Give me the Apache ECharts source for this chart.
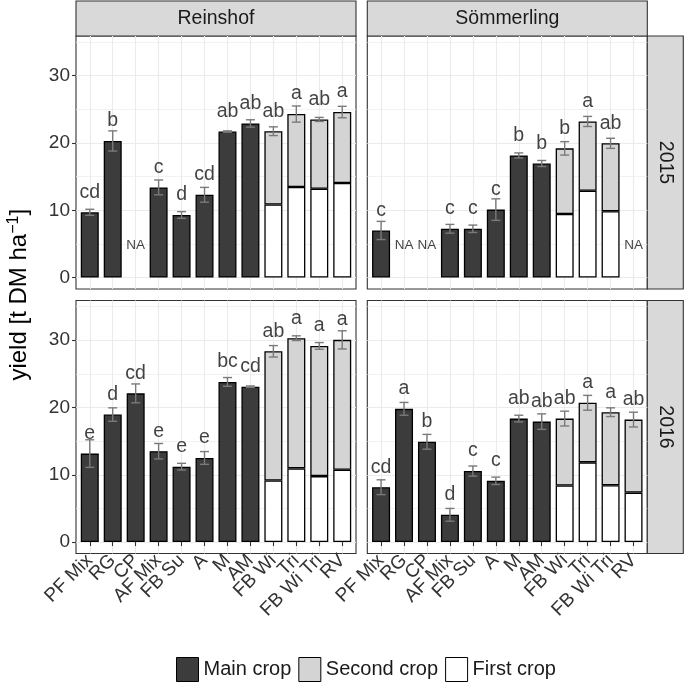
<!DOCTYPE html>
<html><head><meta charset="utf-8">
<script src="https://cdn.jsdelivr.net/npm/echarts@6/dist/echarts.min.js"></script>
<style>html,body{margin:0;padding:0;background:#fff}#c{width:685px;height:684px}</style>
</head><body><div id="c"></div><script>
// ---------- data ----------
const categories = ['PF Mix','RG','CP','AF Mix','FB Su','A','M','AM','FB Wi','Tri','FB Wi Tri','RV'];
const sites = ['Reinshof','Sömmerling'];
const years = ['2015','2016'];
const yMajorTicks = [0, 10, 20, 30];
const yMinorTicks = [5, 15, 25, 35];
const legendNames = ['Main crop','Second crop','First crop'];

// Reinshof 2015
const rein15Main   = [9.7, 20.3, null, 13.4, 9.3, 12.3, 21.7, 22.9, null, null, null, null];
const rein15First  = [null, null, null, null, null, null, null, null, 10.85, 13.45, 13.2, 14.05];
const rein15Second = [null, null, null, null, null, null, null, null, 10.9, 10.85, 10.3, 10.55];
const rein15Se     = [0.45, 1.5, null, 1.1, 0.5, 1.1, 0.1, 0.55, 0.65, 1.2, 0.3, 0.85];
const rein15Letters= ['cd','b','NA','c','d','cd','ab','ab','ab','a','ab','a'];

// Sömmerling 2015
const som15Main    = [7.0, null, null, 7.25, 7.25, 10.1, 18.15, 16.95, null, null, null, null];
const som15First   = [null, null, null, null, null, null, null, null, 9.45, 12.9, 9.85, null];
const som15Second  = [null, null, null, null, null, null, null, null, 9.75, 10.3, 10.1, null];
const som15Se      = [1.35, null, null, 0.65, 0.55, 1.6, 0.37, 0.45, 1.0, 0.75, 0.75, null];
const som15Letters = ['c','NA','NA','c','c','c','b','b','b','a','ab','NA'];

// Reinshof 2016
const rein16Main   = [13.15, 18.95, 22.1, 13.5, 11.2, 12.5, 23.8, 23.1, null, null, null, null];
const rein16First  = [null, null, null, null, null, null, null, null, 9.15, 10.95, 9.8, 10.75];
const rein16Second = [null, null, null, null, null, null, null, null, 19.2, 19.35, 19.35, 19.3];
const rein16Se     = [2.05, 1.0, 1.4, 1.15, 0.5, 0.95, 0.65, 0.1, 0.85, 0.35, 0.5, 1.35];
const rein16Letters= ['e','d','cd','e','e','e','bc','cd','ab','a','a','a'];

// Sömmerling 2016
const som16Main    = [8.15, 19.8, 14.9, 4.05, 10.55, 9.1, 18.35, 17.9, null, null, null, null];
const som16First   = [null, null, null, null, null, null, null, null, 8.4, 11.85, 8.45, 7.35];
const som16Second  = [null, null, null, null, null, null, null, null, 9.95, 8.85, 10.85, 10.85];
const som16Se      = [1.1, 0.95, 1.1, 0.95, 0.75, 0.55, 0.5, 1.15, 1.1, 1.1, 0.65, 1.1];
const som16Letters = ['cd','a','b','d','c','c','ab','ab','ab','a','a','ab'];

// ---------- layout / style ----------
const FONT = "'Liberation Sans', Arial, Helvetica, sans-serif";
const colX = [76, 367.3];
const panelW = 280;
const rowY = [36, 300.5];
const panelH = 253;
const stripTop = 1, stripH = 35;
const rightStripX = 647.3, rightStripW = 36;
const yMin = -1.7, yMax = 35.9;
const unit = panelW / 12.2;
const COL_MAIN = '#3c3c3c', COL_SECOND = '#d4d4d4', COL_FIRST = '#ffffff';

const panels = [
  {row:0, col:0, main:rein15Main, first:rein15First, second:rein15Second, se:rein15Se, letters:rein15Letters},
  {row:0, col:1, main:som15Main,  first:som15First,  second:som15Second,  se:som15Se,  letters:som15Letters},
  {row:1, col:0, main:rein16Main, first:rein16First, second:rein16Second, se:rein16Se, letters:rein16Letters},
  {row:1, col:1, main:som16Main,  first:som16First,  second:som16Second,  se:som16Se,  letters:som16Letters}
];

const grid = [], xAxis = [], yAxis = [], series = [], graphic = [];

panels.forEach((p, k) => {
  const left = colX[p.col], top = rowY[p.row];
  const bottomRow = p.row === 1, leftCol = p.col === 0;
  const gF = 2*k, gB = 2*k + 1;
  grid.push({left: left, top: top, width: panelW, height: panelH, show: true,
    backgroundColor: '#fff', borderColor: '#333', borderWidth: 1.1});
  grid.push({left: left + 0.6*unit, top: top, width: 11*unit, height: panelH, show: false});

  xAxis.push({gridIndex: gF, type: 'value', min: 0, max: 1, show: false});
  xAxis.push({gridIndex: gB, type: 'category', data: categories, boundaryGap: false,
    axisLine: {show: false},
    axisTick: {show: bottomRow, length: 4, interval: 0, lineStyle: {color: '#333', width: 1.1}},
    axisLabel: {show: bottomRow, interval: 0, rotate: 45, margin: 4, fontSize: 19, color: '#333', fontFamily: FONT},
    splitLine: {show: true, interval: 0, lineStyle: {color: '#ebebeb', width: 1.1}}
  });

  yAxis.push({gridIndex: gF, type: 'value', min: yMin, max: yMax, position: 'left',
    axisLine: {show: false},
    axisTick: {show: leftCol, length: 4, customValues: yMajorTicks, lineStyle: {color: '#333', width: 1.1}},
    axisLabel: {show: leftCol, customValues: yMajorTicks, margin: 6, fontSize: 19, color: '#333', fontFamily: FONT},
    splitLine: {show: true, lineStyle: {color: '#ebebeb', width: 1.1}}
  });
  yAxis.push({gridIndex: gF, type: 'value', min: yMin, max: yMax, position: 'right',
    axisLine: {show: false},
    axisTick: {show: false, customValues: yMinorTicks},
    axisLabel: {show: false},
    splitLine: {show: true, lineStyle: {color: '#ededed', width: 0.7}}
  });
  const yB = yAxis.length;
  yAxis.push({gridIndex: gB, type: 'value', min: yMin, max: yMax, show: false});

  const total = categories.map((c, i) => p.main[i] != null ? p.main[i]
      : (p.first[i] != null ? p.first[i] + p.second[i] : null));

  const barBase = {type: 'bar', xAxisIndex: gB, yAxisIndex: yB, stack: 'yield' + k,
    barWidth: 18, clip: false, silent: true};
  series.push(Object.assign({}, barBase, {name: 'First crop', data: p.first.map(v => v == null ? '-' : v),
    itemStyle: {color: COL_FIRST, borderColor: '#000', borderWidth: 1.3}}));
  series.push(Object.assign({}, barBase, {name: 'Second crop', data: p.second.map(v => v == null ? '-' : v),
    itemStyle: {color: COL_SECOND, borderColor: '#000', borderWidth: 1.3}}));
  series.push(Object.assign({}, barBase, {name: 'Main crop', data: p.main.map(v => v == null ? '-' : v),
    itemStyle: {color: COL_MAIN, borderColor: '#000', borderWidth: 1.3}}));

  const errData = [];
  total.forEach((t, i) => { if (t != null && p.se[i] != null) errData.push([i, t - p.se[i], t + p.se[i]]); });
  series.push({type: 'custom', xAxisIndex: gB, yAxisIndex: yB, silent: true, z: 4,
    encode: {x: 0, y: [1, 2]}, data: errData,
    renderItem: function (params, api) {
      const x = api.value(0);
      const lo = api.coord([x, api.value(1)]);
      const hi = api.coord([x, api.value(2)]);
      const w = 4.5;
      const st = {stroke: '#7a7a7a', lineWidth: 1.4};
      return {type: 'group', children: [
        {type: 'line', shape: {x1: lo[0], y1: lo[1], x2: hi[0], y2: hi[1]}, style: st},
        {type: 'line', shape: {x1: lo[0]-w, y1: lo[1], x2: lo[0]+w, y2: lo[1]}, style: st},
        {type: 'line', shape: {x1: hi[0]-w, y1: hi[1], x2: hi[0]+w, y2: hi[1]}, style: st}
      ]};
    }
  });

  const letterData = [], naData = [];
  total.forEach((t, i) => {
    if (t != null) letterData.push({value: [i, t], name: p.letters[i]});
    else naData.push({value: [i, 4.8], name: p.letters[i]});
  });
  series.push({type: 'scatter', xAxisIndex: gB, yAxisIndex: yB, silent: true, z: 5,
    symbolSize: 0.1, itemStyle: {color: 'rgba(0,0,0,0)'}, data: letterData,
    label: {show: true, position: 'top', distance: 10, formatter: '{b}', fontSize: 19.5, color: '#111', fontFamily: FONT}});
  series.push({type: 'scatter', xAxisIndex: gB, yAxisIndex: yB, silent: true, z: 5,
    symbolSize: 0.1, itemStyle: {color: 'rgba(0,0,0,0)'}, data: naData,
    label: {show: true, position: 'inside', formatter: '{b}', fontSize: 13.5, color: '#111', fontFamily: FONT}});
});

sites.forEach((s, c) => {
  graphic.push({type: 'rect', shape: {x: colX[c], y: stripTop, width: panelW, height: stripH},
    style: {fill: '#d9d9d9', stroke: '#333', lineWidth: 1.1}, silent: true});
  graphic.push({type: 'text', x: colX[c] + panelW/2, y: stripTop + stripH/2,
    style: {text: s, fill: '#1a1a1a', font: '19.5px ' + FONT, textAlign: 'center', textVerticalAlign: 'middle'}, silent: true});
});
years.forEach((yr, r) => {
  graphic.push({type: 'rect', shape: {x: rightStripX, y: rowY[r], width: rightStripW, height: panelH},
    style: {fill: '#d9d9d9', stroke: '#333', lineWidth: 1.1}, silent: true});
  graphic.push({type: 'text', x: rightStripX + rightStripW/2, y: rowY[r] + panelH/2, rotation: -Math.PI/2,
    style: {text: yr, fill: '#1a1a1a', font: '19.5px ' + FONT, textAlign: 'center', textVerticalAlign: 'middle'}, silent: true});
});
graphic.push({type: 'text', x: 19, y: (rowY[0] + rowY[1] + panelH)/2, rotation: Math.PI/2,
  style: {text: 'yield [t DM ha{sup|−1}]', fill: '#000', font: '24px ' + FONT,
    textAlign: 'center', textVerticalAlign: 'middle',
    rich: {sup: {fontSize: 16, fontFamily: FONT, fill: '#000', verticalAlign: 'top', padding: [0, 0, 10, 0]}}}, silent: true});

const chart = echarts.init(document.getElementById('c'), null, {renderer: 'canvas'});
chart.setOption({
  animation: false,
  textStyle: {fontFamily: FONT},
  grid: grid, xAxis: xAxis, yAxis: yAxis, series: series, graphic: graphic,
  legend: {data: legendNames, top: 657, left: 176, padding: 0, itemWidth: 22, itemHeight: 24, itemGap: 7,
    icon: 'rect', selectedMode: false,
    itemStyle: {borderColor: '#000', borderWidth: 1},
    textStyle: {fontSize: 20, color: '#1a1a1a', fontFamily: FONT}}
});
</script></body></html>
